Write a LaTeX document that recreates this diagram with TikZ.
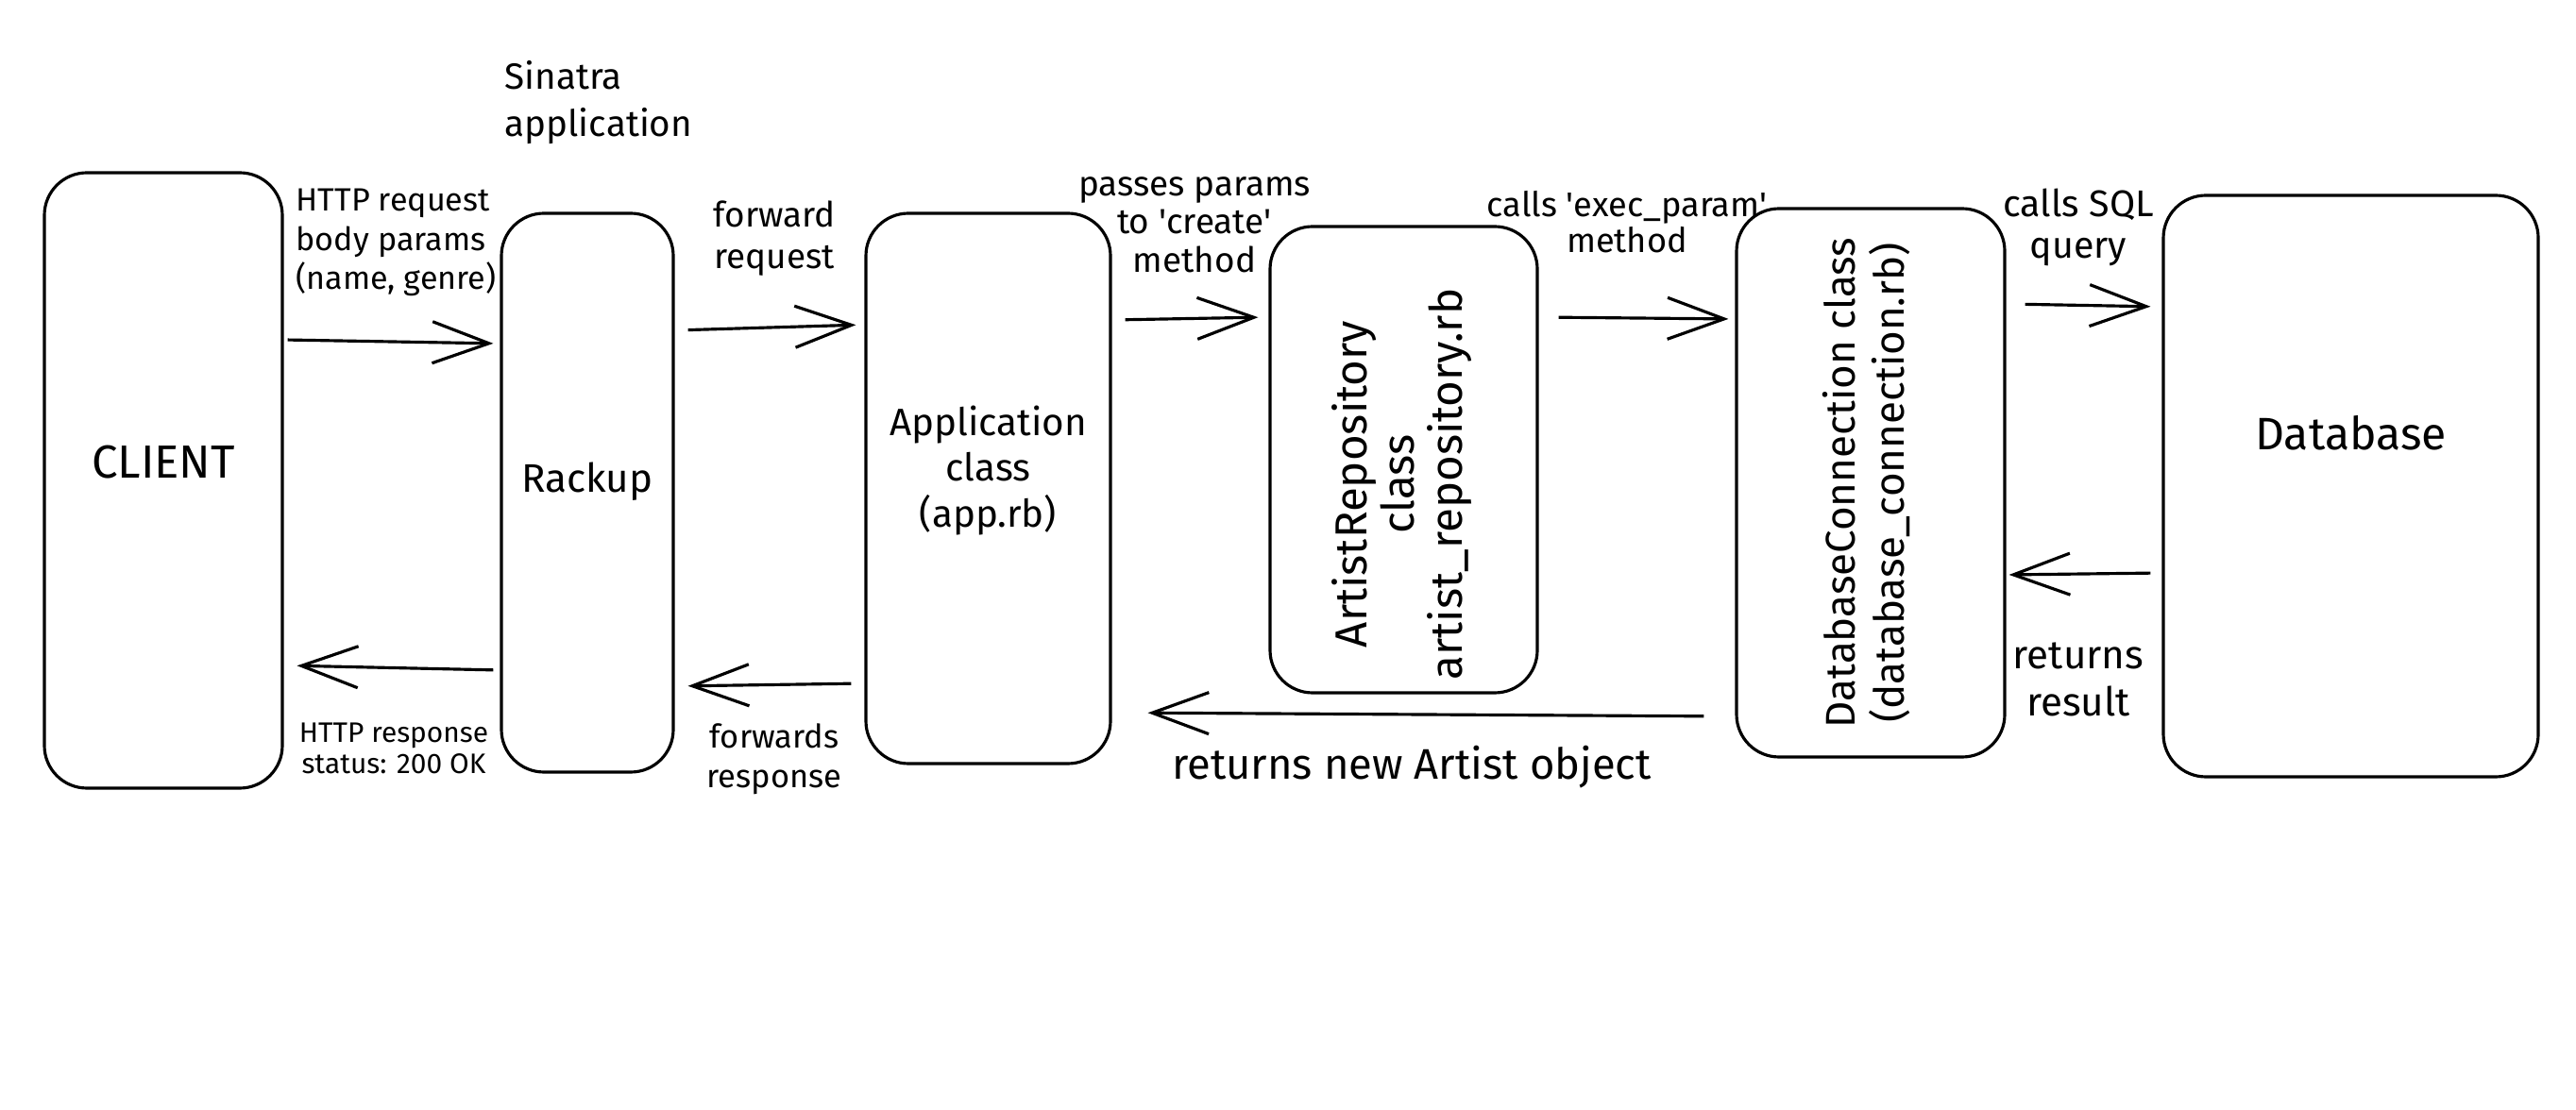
\documentclass[tikz,border=0pt]{standalone}
\usepackage{fontspec}
\setmainfont{Fira Sans}
\usetikzlibrary{arrows.meta}

\begin{document}
\begin{tikzpicture}[
    box/.style={draw=black, line width=0.9pt, rounded corners=4.5mm},
    boxtext/.style={align=center, font=\fontsize{12}{14}\selectfont},
    note/.style={align=center, font=\fontsize{10.5}{12.5}\selectfont},
    small note/.style={align=center, font=\fontsize{8.5}{9.5}\selectfont},
    flow/.style={line width=0.9pt, -{Straight Barb[length=6mm, width=4.4mm]}},
    ]
    \useasboundingbox (0,0) rectangle (27.28,-11.76);

    %Boxes
    \node[box, minimum width=2.52cm, minimum height=6.52cm,
        label={[boxtext, font=\fontsize{14}{16}\selectfont, yshift=1.9mm]center:CLIENT}] at (1.73,-5.09) (client) {};
    \node[box, minimum width=1.82cm, minimum height=5.92cm,
        label={[boxtext, yshift=1.2mm]center:Rackup}] at (6.22,-5.22) (rackup) {};
    \node[box, minimum width=2.59cm, minimum height=5.83cm,
        label={[boxtext, font=\fontsize{11.5}{13.7}\selectfont, yshift=1.9mm]center:Application\\class\\(app.rb)}] at (10.465,-5.175) (app) {};
    \node[box, minimum width=2.83cm, minimum height=4.94cm,
        label={[boxtext, font=\fontsize{13.5}{13.5}\selectfont, yshift=-2.6mm]center:\rotatebox{90}{\begin{tabular}{@{}c@{}}ArtistRepository\\class\\artist\_repository.rb\end{tabular}}}] at (14.865,-4.87) (repo) {};
    \node[box, minimum width=2.84cm, minimum height=5.81cm,
        label={[boxtext, font=\fontsize{12.5}{14}\selectfont]center:\rotatebox{90}{\begin{tabular}{@{}c@{}}DatabaseConnection class\\(database\_connection.rb)\end{tabular}}}] at (19.81,-5.115) (dbconn) {};
    \node[box, minimum width=3.97cm, minimum height=6.16cm,
        label={[boxtext, font=\fontsize{13.7}{15}\selectfont, yshift=5.6mm]center:Database}] at (24.895,-5.15) (db) {};

    %Labels
    \node[note, anchor=west, align=left, inner sep=0pt, font=\fontsize{11}{14.2}\selectfont] at (5.34,-1.09) (sinatra) {Sinatra\\application};
    \node[note, anchor=west, align=left, inner sep=0pt, font=\fontsize{9.7}{11.7}\selectfont] at (3.13,-2.57) (httpreq) {HTTP request\\body params\\(name, genre)};
    \node[note] at (8.20,-2.53) (fwdreq) {forward\\request};
    \node[note, font=\fontsize{10.5}{11.5}\selectfont] at (12.65,-2.38) (passes) {passes params\\to \textquotesingle create\textquotesingle\\method};
    \node[note, font=\fontsize{10.3}{10.8}\selectfont] at (17.23,-2.35) (execparam) {calls \textquotesingle exec\_param\textquotesingle\\method};
    \node[note, font=\fontsize{11.2}{12.5}\selectfont] at (22.01,-2.41) (sqlquery) {calls SQL\\query};
    \node[note, font=\fontsize{12}{14}\selectfont] at (22.01,-7.20) (result) {returns\\result};
    \node[note, font=\fontsize{12.9}{14}\selectfont] at (14.95,-8.13) (newartist) {returns new Artist object};
    \node[note, font=\fontsize{9.8}{12}\selectfont] at (8.20,-8.04) (fwdresp) {forwards\\response};
    \node[small note] at (4.17,-7.93) (httpresp) {HTTP response\\status: 200 OK};

    %Arrows
    \draw[flow, shorten <=0.4mm, shorten >=0.7mm] (client.east |- 0,-3.60) -- (rackup.west |- 0,-3.64);
    \draw[flow, shorten <=1.4mm, shorten >=0.9mm] (rackup.east |- 0,-3.50) -- (app.west |- 0,-3.44);
    \draw[flow, shorten <=1.4mm, shorten >=1.1mm] (app.east |- 0,-3.39) -- (repo.west |- 0,-3.36);
    \draw[flow, shorten <=2.1mm, shorten >=0.7mm] (repo.east |- 0,-3.36) -- (dbconn.west |- 0,-3.38);
    \draw[flow, shorten <=2.0mm, shorten >=1.2mm] (dbconn.east |- 0,-3.22) -- (db.west |- 0,-3.25);
    \draw[flow, shorten <=1.2mm, shorten >=0.3mm] (db.west |- 0,-6.07) -- (dbconn.east |- 0,-6.09);
    \draw[flow, shorten <=3.3mm, shorten >=3.8mm] (dbconn.west |- 0,-7.59) -- (app.east |- 0,-7.55);
    \draw[flow, shorten <=1.4mm, shorten >=1.4mm] (app.west |- 0,-7.24) -- (rackup.east |- 0,-7.27);
    \draw[flow, shorten <=0.7mm, shorten >=1.4mm] (rackup.west |- 0,-7.10) -- (client.east |- 0,-7.05);
\end{tikzpicture}
\end{document}
